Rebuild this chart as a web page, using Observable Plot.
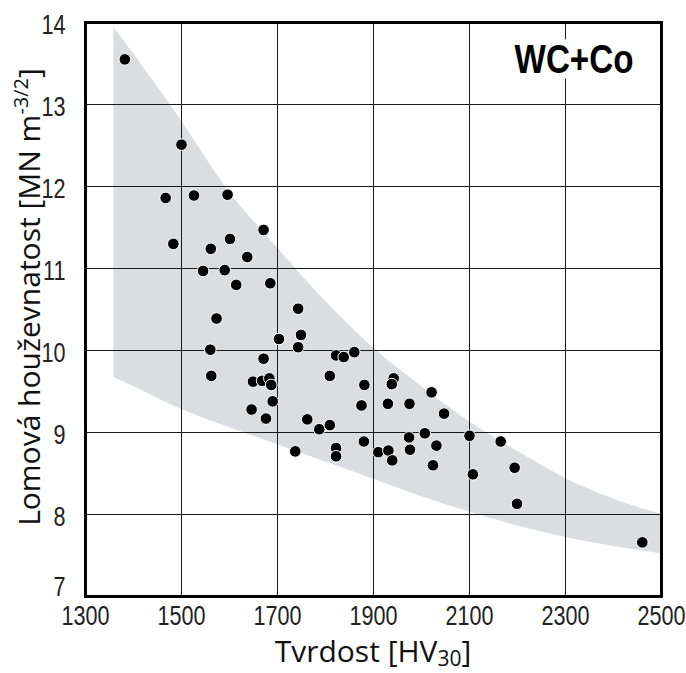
<!DOCTYPE html>
<html><head><meta charset="utf-8">
<script src="https://cdn.jsdelivr.net/npm/d3@7"></script>
<script src="https://cdn.jsdelivr.net/npm/@observablehq/plot@0.6"></script>
<style>
body{margin:0;background:#fff;}
#chart svg{display:block;}
</style>
</head><body><div id="chart"></div>
<script>
// Data points: hardness HV30 and fracture toughness
const hardness = [1382,1500,1467,1526,1596,1671,1483,1601,1561,1637,1545,1590,1614,1685,1573,1743,1749,1703,1743,1560,1562,1671,1649,1668,1683,1687,1690,1646,1676,1762,1787,1809,1737,1822,1822,1822,1838,1860,1809,1881,1875,1880,1910,1942,1938,1930,1975,2021,2047,1974,2007,1931,1939,1976,2031,2024,2100,2107,2165,2194,2199,2460];
const toughness = [13.55,12.51,11.86,11.89,11.90,11.47,11.30,11.36,11.24,11.14,10.97,10.98,10.80,10.82,10.39,10.51,10.19,10.14,10.04,10.01,9.69,9.90,9.62,9.63,9.66,9.58,9.38,9.28,9.17,9.16,9.04,9.09,8.77,8.81,8.71,9.94,9.92,9.98,9.69,9.58,9.33,8.89,8.76,9.66,9.59,9.35,9.35,9.49,9.23,8.94,8.99,8.78,8.66,8.79,8.84,8.60,8.96,8.49,8.89,8.57,8.13,7.66];

// Grey scatter band edges
const bandX     = [1359, 1400, 1500, 1600, 1700, 1800, 1900, 2000, 2100, 2200, 2300, 2400, 2500];
const bandUpper = [13.94,13.62,12.80,11.93,11.25,10.60,10.03,9.56, 9.13, 8.77, 8.44, 8.19, 8.00];
const bandLower = [9.67, 9.56, 9.28, 9.06, 8.85, 8.64, 8.43, 8.22, 8.03, 7.86, 7.72, 7.61, 7.52];

const xTicks = [1300,1500,1700,1900,2100,2300,2500];
const yTicks = [7,8,9,10,11,12,13,14];
const tag = ["WC+Co"];

const points = hardness.map((x,i)=>({x, y: toughness[i]}));
const band = bandX.map((x,i)=>({x, y1: bandLower[i], y2: bandUpper[i]}));

const tickFont = "'Liberation Sans', Arial, sans-serif";
const labelFont = "'Open Sans', 'Noto Sans', sans-serif";

const chart = Plot.plot({
  width: 686, height: 673,
  marginLeft: 85, marginRight: 25, marginTop: 22, marginBottom: 77,
  style: {background: "#fff", fontFamily: tickFont, fontSize: "27px", color: "#111"},
  x: {domain: [1300, 2500]},
  y: {domain: [7, 14]},
  marks: [
    Plot.areaY(band, {x: "x", y1: "y1", y2: "y2", fill: "#dcdde0", curve: "monotone-x"}),
    Plot.gridX(xTicks, {stroke: "#1a1a1a", strokeOpacity: 1, strokeWidth: 1}),
    Plot.gridY(yTicks, {stroke: "#1a1a1a", strokeOpacity: 1, strokeWidth: 1}),
    Plot.text(tag, {frameAnchor: "top-right", text: d => d, dx: -28, dy: 37, lineAnchor: "middle", textAnchor: "end",
      fontFamily: "'Liberation Sans', Arial, sans-serif", fontWeight: "bold", fontSize: 41,
      fill: "black", stroke: "white", strokeWidth: 14}),
    Plot.dot(points, {x: "x", y: "y", r: 5.8, fill: "black", stroke: "white", strokeWidth: 1}),
    Plot.axisX(xTicks, {tickSize: 0, tickPadding: 9, fontSize: 27, label: null, fill: "#222", tickFormat: "d"}),
    Plot.axisY(yTicks, {tickSize: 0, tickPadding: 20, fontSize: 27, label: null, dy: 3, fill: "#222", tickFormat: "d"}),
    Plot.frame({stroke: "black", strokeWidth: 3})
  ]
});

const svg = d3.select(chart);

// Narrow the condensed-looking texts horizontally (about their anchor)
function narrow(sel, k) {
  sel.each(function() {
    const t = this.getAttribute("transform") || "";
    this.setAttribute("transform", `${t} scale(${k},1)`);
  });
}
narrow(svg.selectAll('g[aria-label="x-axis tick label"] text'), 0.8);
narrow(svg.selectAll('g[aria-label="y-axis tick label"] text'), 0.8);
narrow(svg.selectAll('g[aria-label="text"] text'), 0.81);
// the bottom "7" label sits just above the axis line
svg.selectAll('g[aria-label="y-axis tick label"] text')
  .filter(function() { return this.textContent === "7"; })
  .each(function() { this.setAttribute("transform", this.getAttribute("transform") + " translate(0,-12)"); });

const xl = svg.append("text")
  .attr("x", 373).attr("y", 662).attr("text-anchor", "middle")
  .style("font-family", labelFont).style("font-size", "30px").attr("fill", "#111");
xl.append("tspan").text("Tvrdost [HV");
xl.append("tspan").attr("dy", 4).style("font-size", "21px").text("30");
xl.append("tspan").attr("dy", -4).text("]");

const yl = svg.append("text")
  .attr("transform", "translate(40,297) rotate(-90)").attr("text-anchor", "middle")
  .style("font-family", labelFont).style("font-size", "30px").attr("fill", "#111");
yl.append("tspan").text("Lomová houževnatost [MN m");
yl.append("tspan").attr("dy", -12).style("font-size", "20px").text("-3/2");
yl.append("tspan").attr("dy", 12).text("]");

document.getElementById("chart").appendChild(chart);
</script>
</body></html>
